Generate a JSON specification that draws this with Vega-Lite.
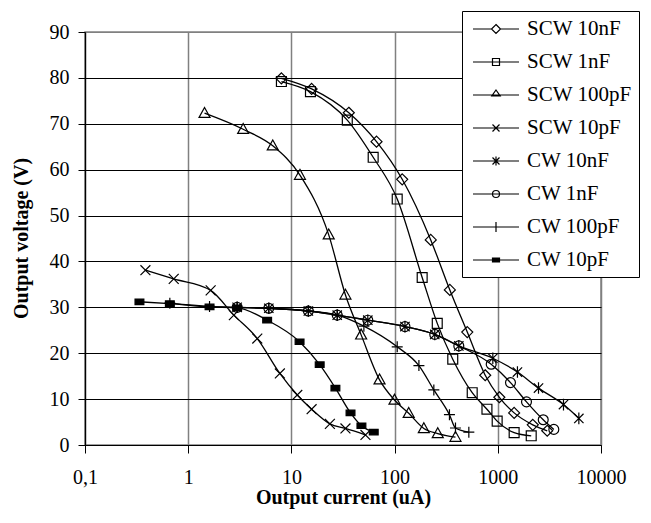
{
  "$schema": "https://vega.github.io/schema/vega-lite/v6.json",
  "autosize": {"type": "none"},
  "padding": {"left": 85, "top": 32, "right": 50, "bottom": 78},
  "width": 516,
  "height": 413,
  "background": "white",
  "config": {
    "view": {"stroke": "#808080", "strokeWidth": 1.5},
    "font": "Liberation Serif"
  },
  "data": {
    "values": [
      {"series": "SCW 10nF", "current": 8, "voltage": 79.9},
      {"series": "SCW 10nF", "current": 15.7, "voltage": 77.6},
      {"series": "SCW 10nF", "current": 36, "voltage": 72.4},
      {"series": "SCW 10nF", "current": 66.8, "voltage": 66.1},
      {"series": "SCW 10nF", "current": 118.5, "voltage": 57.9},
      {"series": "SCW 10nF", "current": 224, "voltage": 44.7},
      {"series": "SCW 10nF", "current": 343, "voltage": 33.8},
      {"series": "SCW 10nF", "current": 506, "voltage": 24.6},
      {"series": "SCW 10nF", "current": 755, "voltage": 15.2},
      {"series": "SCW 10nF", "current": 1035, "voltage": 10.4},
      {"series": "SCW 10nF", "current": 1440, "voltage": 7.0},
      {"series": "SCW 10nF", "current": 2183, "voltage": 4.4},
      {"series": "SCW 10nF", "current": 3013, "voltage": 3.1},
      {"series": "SCW 1nF", "current": 8, "voltage": 79.2},
      {"series": "SCW 1nF", "current": 15.3, "voltage": 77.0},
      {"series": "SCW 1nF", "current": 34.8, "voltage": 70.8},
      {"series": "SCW 1nF", "current": 62, "voltage": 62.7},
      {"series": "SCW 1nF", "current": 106, "voltage": 53.6},
      {"series": "SCW 1nF", "current": 185, "voltage": 36.5},
      {"series": "SCW 1nF", "current": 259, "voltage": 26.5},
      {"series": "SCW 1nF", "current": 366, "voltage": 18.7},
      {"series": "SCW 1nF", "current": 565, "voltage": 11.4},
      {"series": "SCW 1nF", "current": 785, "voltage": 7.8},
      {"series": "SCW 1nF", "current": 986, "voltage": 5.2},
      {"series": "SCW 1nF", "current": 1440, "voltage": 2.7},
      {"series": "SCW 1nF", "current": 2108, "voltage": 2.0},
      {"series": "SCW 100pF", "current": 1.44, "voltage": 72.3},
      {"series": "SCW 100pF", "current": 3.41, "voltage": 68.8},
      {"series": "SCW 100pF", "current": 6.6, "voltage": 65.2},
      {"series": "SCW 100pF", "current": 12.1, "voltage": 58.8},
      {"series": "SCW 100pF", "current": 23, "voltage": 45.8},
      {"series": "SCW 100pF", "current": 33.4, "voltage": 32.7},
      {"series": "SCW 100pF", "current": 47.4, "voltage": 24.0},
      {"series": "SCW 100pF", "current": 71.5, "voltage": 14.2},
      {"series": "SCW 100pF", "current": 99.8, "voltage": 9.8},
      {"series": "SCW 100pF", "current": 137, "voltage": 6.9},
      {"series": "SCW 100pF", "current": 192, "voltage": 3.6},
      {"series": "SCW 100pF", "current": 262, "voltage": 2.5},
      {"series": "SCW 100pF", "current": 389, "voltage": 1.7},
      {"series": "SCW 10pF", "current": 0.385, "voltage": 38.1},
      {"series": "SCW 10pF", "current": 0.724, "voltage": 36.2},
      {"series": "SCW 10pF", "current": 1.65, "voltage": 33.7},
      {"series": "SCW 10pF", "current": 2.77, "voltage": 28.3},
      {"series": "SCW 10pF", "current": 4.67, "voltage": 23.2},
      {"series": "SCW 10pF", "current": 7.73, "voltage": 15.6},
      {"series": "SCW 10pF", "current": 11.4, "voltage": 10.9},
      {"series": "SCW 10pF", "current": 15.7, "voltage": 7.8},
      {"series": "SCW 10pF", "current": 23.6, "voltage": 4.6},
      {"series": "SCW 10pF", "current": 33.4, "voltage": 3.6},
      {"series": "SCW 10pF", "current": 52.2, "voltage": 2.2},
      {"series": "CW 10nF", "current": 2.98, "voltage": 30.0},
      {"series": "CW 10nF", "current": 6.04, "voltage": 29.8},
      {"series": "CW 10nF", "current": 14.6, "voltage": 29.2},
      {"series": "CW 10nF", "current": 27.8, "voltage": 28.3},
      {"series": "CW 10nF", "current": 55, "voltage": 27.2},
      {"series": "CW 10nF", "current": 126, "voltage": 25.8},
      {"series": "CW 10nF", "current": 245, "voltage": 24.1},
      {"series": "CW 10nF", "current": 419, "voltage": 21.6},
      {"series": "CW 10nF", "current": 895, "voltage": 18.9},
      {"series": "CW 10nF", "current": 1550, "voltage": 15.9},
      {"series": "CW 10nF", "current": 2480, "voltage": 12.4},
      {"series": "CW 10nF", "current": 4330, "voltage": 8.8},
      {"series": "CW 10nF", "current": 6100, "voltage": 5.8},
      {"series": "CW 1nF", "current": 2.98, "voltage": 30.0},
      {"series": "CW 1nF", "current": 6.04, "voltage": 29.8},
      {"series": "CW 1nF", "current": 14.6, "voltage": 29.2},
      {"series": "CW 1nF", "current": 27.8, "voltage": 28.3},
      {"series": "CW 1nF", "current": 55, "voltage": 27.2},
      {"series": "CW 1nF", "current": 126, "voltage": 25.8},
      {"series": "CW 1nF", "current": 245, "voltage": 24.1},
      {"series": "CW 1nF", "current": 419, "voltage": 21.6},
      {"series": "CW 1nF", "current": 863, "voltage": 17.6},
      {"series": "CW 1nF", "current": 1327, "voltage": 13.6},
      {"series": "CW 1nF", "current": 1897, "voltage": 9.4},
      {"series": "CW 1nF", "current": 2756, "voltage": 5.5},
      {"series": "CW 1nF", "current": 3490, "voltage": 3.4},
      {"series": "CW 100pF", "current": 0.664, "voltage": 30.9},
      {"series": "CW 100pF", "current": 1.61, "voltage": 30.2},
      {"series": "CW 100pF", "current": 2.98, "voltage": 30.0},
      {"series": "CW 100pF", "current": 6.04, "voltage": 29.8},
      {"series": "CW 100pF", "current": 14.6, "voltage": 29.2},
      {"series": "CW 100pF", "current": 27.8, "voltage": 28.3},
      {"series": "CW 100pF", "current": 50.4, "voltage": 25.9},
      {"series": "CW 100pF", "current": 106, "voltage": 21.4},
      {"series": "CW 100pF", "current": 172, "voltage": 17.3},
      {"series": "CW 100pF", "current": 240, "voltage": 12.0},
      {"series": "CW 100pF", "current": 340, "voltage": 6.6},
      {"series": "CW 100pF", "current": 389, "voltage": 3.7},
      {"series": "CW 100pF", "current": 524, "voltage": 2.8},
      {"series": "CW 10pF", "current": 0.337, "voltage": 31.2},
      {"series": "CW 10pF", "current": 0.664, "voltage": 30.8},
      {"series": "CW 10pF", "current": 1.61, "voltage": 30.1},
      {"series": "CW 10pF", "current": 2.98, "voltage": 29.9},
      {"series": "CW 10pF", "current": 5.82, "voltage": 27.2},
      {"series": "CW 10pF", "current": 12.0, "voltage": 22.5},
      {"series": "CW 10pF", "current": 18.8, "voltage": 17.5},
      {"series": "CW 10pF", "current": 26.7, "voltage": 12.4},
      {"series": "CW 10pF", "current": 37.4, "voltage": 7.0},
      {"series": "CW 10pF", "current": 47.7, "voltage": 4.2},
      {"series": "CW 10pF", "current": 62.8, "voltage": 2.8}
    ]
  },
  "encoding": {
    "x": {
      "field": "current",
      "type": "quantitative",
      "scale": {"type": "log", "domain": [0.1, 10000], "nice": false},
      "axis": {
        "values": [0.1, 1, 10, 100, 1000, 10000],
        "labelExpr": "datum.value == 0.1 ? '0,1' : format(datum.value, 'd')",
        "grid": true,
        "gridColor": "#808080",
        "gridWidth": 1.5,
        "domainColor": "black",
        "domainWidth": 1.2,
        "tickColor": "black",
        "tickSize": 8,
        "labelFont": "Liberation Serif",
        "labelFontSize": 20,
        "labelColor": "black",
        "labelPadding": 14,
        "labelFlush": false,
        "title": "Output current (uA)",
        "titleFont": "Liberation Serif",
        "titleFontSize": 20,
        "titleFontWeight": "bold",
        "titleColor": "black",
        "titleBaseline": "alphabetic",
        "titleY": 58
      }
    },
    "y": {
      "field": "voltage",
      "type": "quantitative",
      "scale": {"domain": [0, 90], "nice": false},
      "axis": {
        "values": [0, 10, 20, 30, 40, 50, 60, 70, 80, 90],
        "grid": true,
        "gridColor": {"condition": {"test": "datum.value == 90", "value": "#808080"}, "value": "black"},
        "gridWidth": 1,
        "domainColor": "black",
        "domainWidth": 1.2,
        "tickColor": "black",
        "tickSize": 7,
        "labelFont": "Liberation Serif",
        "labelFontSize": 20,
        "labelColor": "black",
        "labelPadding": 9,
        "labelFlush": false,
        "title": "Output voltage (V)",
        "titleFont": "Liberation Serif",
        "titleFontSize": 20,
        "titleFontWeight": "bold",
        "titleColor": "black",
        "titleAngle": -90,
        "titleBaseline": "alphabetic",
        "titleX": -58,
        "titleY": 206
      }
    }
  },
  "resolve": {"scale": {"shape": "independent"}, "legend": {"shape": "independent"}},
  "layer": [
    {
      "mark": {"type": "line", "interpolate": "monotone", "color": "black", "strokeWidth": 1.3},
      "encoding": {"detail": {"field": "series"}}
    },
    {
      "mark": {"type": "point", "filled": true, "stroke": "black", "strokeWidth": 1.2, "size": 121, "opacity": 1},
      "encoding": {
        "fill": {"condition": {"test": "datum.series == 'CW 10pF'", "value": "black"}, "value": "transparent"},
        "shape": {
          "field": "series",
          "type": "nominal",
          "scale": {
            "domain": ["SCW 10nF", "SCW 1nF", "SCW 100pF", "SCW 10pF", "CW 10nF", "CW 1nF", "CW 100pF", "CW 10pF"],
            "range": [
              "M0,-1L1,0L0,1L-1,0Z",
              "M-0.9,-0.9H0.9V0.9H-0.9Z",
              "M0,-1.05L1,0.75H-1Z",
              "M-0.9,-0.9L0.9,0.9M-0.9,0.9L0.9,-0.9",
              "M-0.85,-0.85L0.85,0.85M-0.85,0.85L0.85,-0.85M0,-1.05V1.05",
              "M-0.9,0A0.9,0.9,0,1,1,0.9,0A0.9,0.9,0,1,1,-0.9,0Z",
              "M-1,0H1M0,-1V1",
              "M-0.8,-0.5H0.8V0.5H-0.8Z"
            ]
          },
          "legend": null
        }
      }
    },
    {
      "mark": {"type": "point", "filled": false, "color": "black", "strokeWidth": 1.2, "size": 1, "opacity": 0},
      "encoding": {
        "shape": {
          "field": "series",
          "type": "nominal",
          "scale": {
            "domain": ["SCW 10nF", "SCW 1nF", "SCW 100pF", "SCW 10pF", "CW 10nF", "CW 1nF", "CW 100pF", "CW 10pF"],
            "range": [
              "M-2.3,0H-0.45M0.45,0H2.3M0,-0.45L0.45,0L0,0.45L-0.45,0Z",
              "M-2.3,0H2.3M-0.35,-0.35H0.35V0.35H-0.35Z",
              "M-2.3,0H2.3M0,-0.5L0.42,0.1H-0.42Z",
              "M-2.3,0H2.3M-0.35,-0.35L0.35,0.35M-0.35,0.35L0.35,-0.35",
              "M-2.3,0H2.3M-0.35,-0.35L0.35,0.35M-0.35,0.35L0.35,-0.35M0,-0.45V0.45",
              "M-2.3,0H2.3M-0.35,0A0.35,0.35,0,1,1,0.35,0A0.35,0.35,0,1,1,-0.35,0Z",
              "M-2.3,0H2.3M0,-0.5V0.5",
              "M-2.3,0H2.3M-0.35,-0.2H0.35M-0.35,-0.1H0.35M-0.35,0.1H0.35M-0.35,0.2H0.35M-0.35,-0.25V0.25M0.35,-0.25V0.25"
            ]
          },
          "legend": {
            "title": null,
            "orient": "none",
            "legendX": 377,
            "legendY": -21,
            "fillColor": "white",
            "strokeColor": "black",
            "padding": 7,
            "symbolSize": 400,
            "symbolOffset": 16,
            "labelOffset": 20,
            "rowPadding": 12,
            "labelFont": "Liberation Serif",
            "labelFontSize": 21,
            "labelColor": "black",
            "labelLimit": 300,
            "symbolStrokeWidth": 1.2,
            "symbolStrokeColor": "black",
            "symbolFillColor": "transparent",
            "symbolOpacity": 1
          }
        }
      }
    }
  ]
}
